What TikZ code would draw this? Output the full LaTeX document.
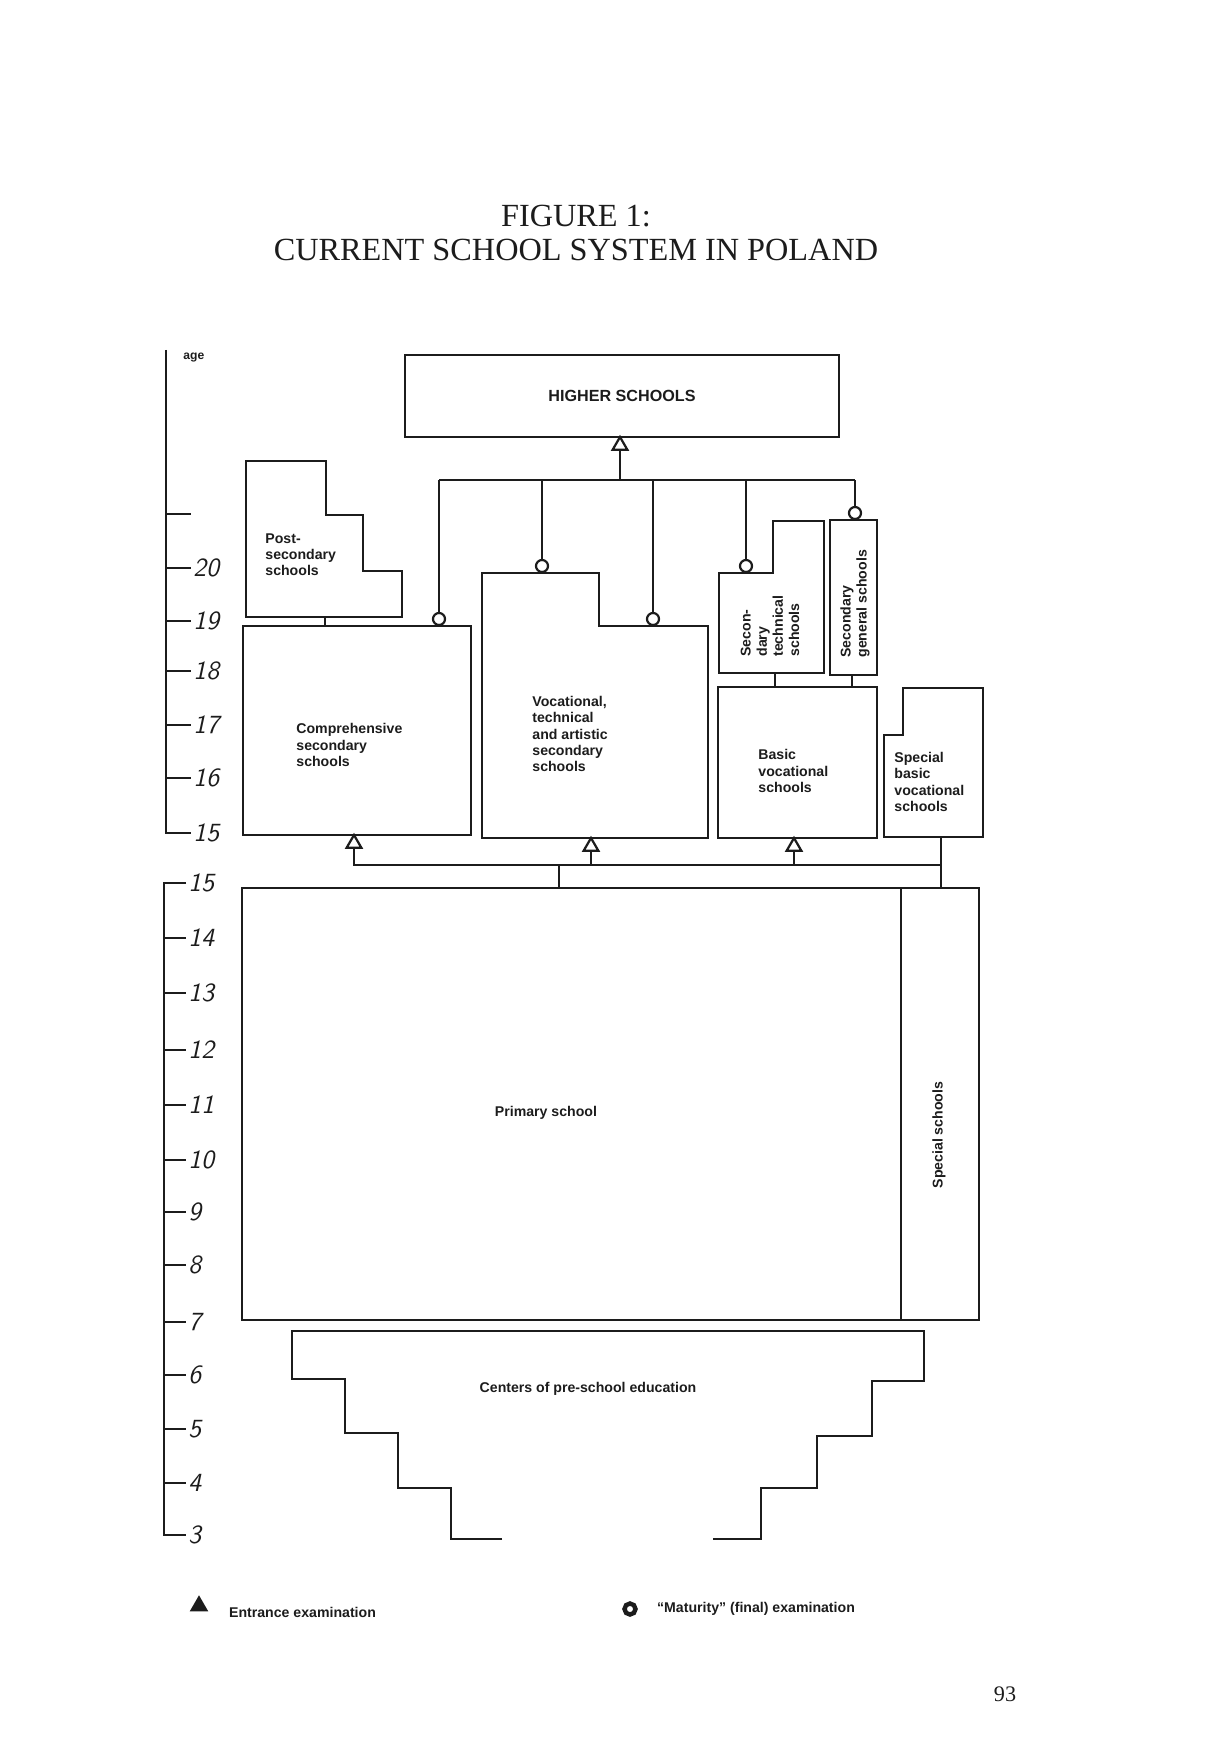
\documentclass[tikz,border=0pt]{standalone}
\usepackage{fontspec}
\setmainfont{Liberation Serif}
\newfontfamily\labfont{Liberation Sans}
\usepackage{tikz}
\usetikzlibrary{shapes.geometric}
\definecolor{Ink}{HTML}{1C1C1C}
\newdimen\pxu \pxu=0.1742mm

\begin{document}
\begin{tikzpicture}[
  x=0.1742mm, y=-0.1742mm,
  every node/.style={font=\labfont\bfseries\fontsize{7}{8}\selectfont,text=Ink},
  wall/.style={draw=Ink,line width=1.2pt,line join=miter},
  schoolbox/.style={draw=Ink,line width=1.2pt,inner sep=0pt,align=center},
  lab/.style={align=left,inner sep=0pt},
  link/.style={draw=Ink,line width=1pt},
  tick/.style={draw=Ink,line width=1pt},
  agenum/.style={font=\sffamily\slshape\fontsize{13}{13}\selectfont,anchor=west,inner sep=0pt},
  matur/.style={circle,draw=Ink,line width=1.1pt,fill=white,minimum size=12\pxu,inner sep=0pt},
  entr/.style={regular polygon,regular polygon sides=3,draw=Ink,line width=1.1pt,fill=white,minimum size=17\pxu,inner sep=0pt}
]
\useasboundingbox (0,0) rectangle (1206,1760);

% title
\node[font=\fontsize{16}{17}\selectfont,align=center] (title) at (576,233) {FIGURE 1:\\CURRENT SCHOOL SYSTEM IN POLAND};

% age scale
\node[anchor=west,inner sep=0pt,font=\labfont\bfseries\fontsize{6}{6}\selectfont] (agehead) at (183,358) {age};
\draw[tick] (166,350) -- (166,833) -- (191,833);
\draw[tick] (166,514) -- (191,514);
\foreach \yy/\aa in {568/20,621/19,671/18,725/17,778/16,833/15} {
  \draw[tick] (166,\yy) -- (191,\yy);
  \node[agenum] (up\aa) at (193,\yy) {\aa};
}
\draw[tick] (186,883) -- (164,883) -- (164,1535) -- (186,1535);
\foreach \yy/\aa in {883/15,938/14,993/13,1050/12,1105/11,1160/10,1212/9,1265/8,1322/7,1375/6,1429/5,1483/4,1535/3} {
  \draw[tick] (164,\yy) -- (186,\yy);
  \node[agenum] (low\aa) at (188,\yy) {\aa};
}

% higher level
\node[schoolbox,minimum width=434\pxu,minimum height=82\pxu,font=\labfont\bfseries\fontsize{8}{9}\selectfont] (higher) at (622,396) {HIGHER SCHOOLS};

% post-secondary
\draw[wall] (246,461) -- (326,461) -- (326,515) -- (363,515) -- (363,571) -- (402,571) -- (402,617) -- (246,617) -- cycle;
\node[lab,anchor=west] (postlab) at (265,555) {Post-\\secondary\\schools};

% secondary level
\node[schoolbox,minimum width=228\pxu,minimum height=209\pxu] (compr) at (357,730.5) {};
\node[lab,anchor=west] (comprlab) at (296,745) {Comprehensive\\secondary\\schools};

\draw[wall] (482,573) -- (599,573) -- (599,626) -- (708,626) -- (708,838) -- (482,838) -- cycle;
\node[lab,anchor=west] (voclab) at (532,734) {Vocational,\\technical\\and artistic\\secondary\\schools};

\draw[wall] (719,573) -- (773,573) -- (773,521) -- (824,521) -- (824,673) -- (719,673) -- cycle;
\node[lab,rotate=90,anchor=west] (sectlab) at (770,657) {Secon-\\dary\\technical\\schools};

\node[schoolbox,minimum width=47\pxu,minimum height=155\pxu] (secgen) at (853.5,597.5) {};
\node[lab,rotate=90,anchor=west] (secgenlab) at (855,658) {Secondary\\general schools};

\node[schoolbox,minimum width=159\pxu,minimum height=151\pxu] (basicvoc) at (797.5,762.5) {};
\node[lab,anchor=west] (basiclab) at (758,771) {Basic\\vocational\\schools};

\draw[wall] (884,735) -- (903,735) -- (903,688) -- (983,688) -- (983,837) -- (884,837) -- cycle;
\node[lab,anchor=west] (spblab) at (894,782) {Special\\basic\\vocational\\schools};

% primary level
\node[schoolbox,minimum width=659\pxu,minimum height=432\pxu] (primary) at (571.5,1104) {};
\node (primlab) at (546,1113) {Primary school};
\node[schoolbox,minimum width=78\pxu,minimum height=432\pxu] (special) at (940,1104) {};
\node[rotate=90] (speclab) at (939,1135) {Special schools};

% pre-school
\draw[wall] (502,1539) -- (451,1539) -- (451,1488) -- (398,1488) -- (398,1433) -- (345,1433) -- (345,1379) -- (292,1379) -- (292,1331)
  -- (924,1331) -- (924,1381) -- (872,1381) -- (872,1436) -- (817,1436) -- (817,1488) -- (761,1488) -- (761,1539) -- (713,1539);
\node (prelab) at (588,1389) {Centers of pre-school education};

% examinations into higher schools
\node[entr] (e0) at (620,445.5) {};
\coordinate (busL) at (439,480);
\coordinate (busR) at (855,480);
\node[matur] (m1) at (439,619) {};
\node[matur] (m2) at (542,566) {};
\node[matur] (m3) at (653,619) {};
\node[matur] (m4) at (746,566) {};
\node[matur] (m5) at (855,513) {};
\draw[link] (e0.south) -- (e0.south |- busL);
\draw[link] (busL) -- (busR);
\draw[link] (busL) -- (m1);
\draw[link] (m2 |- busL) -- (m2);
\draw[link] (m3 |- busL) -- (m3);
\draw[link] (m4 |- busL) -- (m4);
\draw[link] (busR) -- (m5);

% short links between boxes
\draw[link] (325,617) -- (325 ,626);
\draw[link] (775,673) -- (775,687);
\draw[link] (852,675) -- (852,687);

% examinations into secondary schools
\node[entr] (e1) at (354,843.5) {};
\node[entr] (e2) at (591,846.5) {};
\node[entr] (e3) at (794,846.5) {};
\coordinate (hub) at (941,865);
\coordinate (spbase) at (941,837);
\coordinate (midstem) at (559,865);
\draw[link] (e1.south) |- (hub);
\draw[link] (e2.south) -- (e2.south |- hub);
\draw[link] (e3.south) -- (e3.south |- hub);
\draw[link] (spbase) -- (hub) -- (hub |- primary.north);
\draw[link] (midstem) -- (midstem |- primary.north);

% legend
\node[entr,fill=Ink] (legE) at (199,1606) {};
\node[anchor=west] (legEt) at (222,1612) {Entrance examination};
\node[circle,draw=Ink,line width=2.2pt,minimum size=11\pxu,inner sep=0pt] (legM) at (630,1609) {};
\node[anchor=west] (legMt) at (650,1609) {“Maturity” (final) examination};

% page number
\node[font=\fontsize{11}{11}\selectfont] (pagenum) at (1005,1694) {93};
\end{tikzpicture}
\end{document}
